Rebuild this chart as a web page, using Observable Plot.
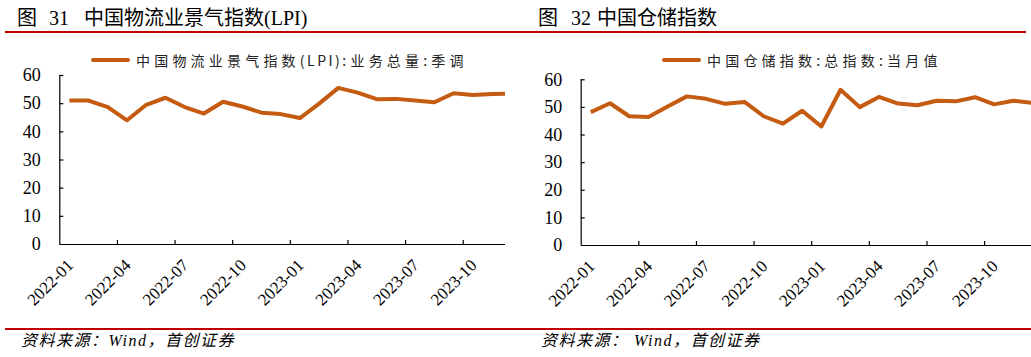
<!DOCTYPE html>
<html><head><meta charset="utf-8">
<script src="https://cdn.jsdelivr.net/npm/d3@7"></script>
<script src="https://cdn.jsdelivr.net/npm/@observablehq/plot@0.6"></script>
<style>
body{margin:0;background:#fff;}
#root{position:relative;width:1031px;height:357px;overflow:hidden;background:#fff;font-family:"Liberation Serif","Noto Sans CJK SC",serif;color:#000;}
.abs{position:absolute;}
.title{font-size:20px;line-height:24px;white-space:nowrap;}
.rule{height:2px;background:#C00000;}
.legend{font-family:"Noto Sans CJK SC",sans-serif;font-size:14px;line-height:18px;letter-spacing:4.2px;white-space:nowrap;display:flex;align-items:center;color:#222;}
.legend .lat{letter-spacing:2.5px;}
.sw{display:inline-block;width:39px;height:4px;background:#C55A11;border-radius:2px;margin-right:6px;}
.src{font-style:italic;font-size:16px;line-height:20px;letter-spacing:1.5px;white-space:nowrap;}
.chart{overflow:hidden;}
.chart svg{overflow:hidden;}
</style></head><body>
<div id="root"></div>
<script>
// ---- data ----
const months = ["2022-01","2022-02","2022-03","2022-04","2022-05","2022-06","2022-07","2022-08","2022-09","2022-10","2022-11","2022-12",
                "2023-01","2023-02","2023-03","2023-04","2023-05","2023-06","2023-07","2023-08","2023-09","2023-10","2023-11","2023-12"];
const tickLabels = ["2022-01","2022-04","2022-07","2022-10","2023-01","2023-04","2023-07","2023-10"];
const yTicks = [0,10,20,30,40,50,60];
const lpiValues = [51.1,51.1,48.8,44.1,49.6,52.1,48.8,46.5,50.7,49.0,46.8,46.3,
                   44.9,50.0,55.6,53.9,51.6,51.7,51.1,50.5,53.7,53.1,53.4,53.6];
const storageValues = [48.3,51.5,46.8,46.5,50.3,54.0,53.1,51.3,52.0,46.8,44.1,48.8,
                       43.1,56.4,50.1,53.8,51.4,50.8,52.4,52.2,53.7,51.1,52.4,51.6];
const lpiTitle = "中国物流业景气指数(LPI)";
const lpiLegendParts = ["中国物流业景气指数", "(LPI)", ":业务总量:季调"];
const storageTitle = "中国仓储指数";
const storageLegend = "中国仓储指数:总指数:当月值";

const lineColor = "#C55A11";
const bandW = 19.21;

function makeChart(values, cfg) {
  const tickIdx = tickLabels.map(l => months.indexOf(l));
  const data = values.map((v, i) => ({month: months[i], idx: i, value: v}));
  return Plot.plot({
    width: cfg.width, height: cfg.height,
    marginLeft: cfg.marginLeft, marginRight: 0,
    marginTop: cfg.marginTop, marginBottom: cfg.marginBottom,
    style: {fontFamily: "'Liberation Serif', serif", fontSize: "18px", color: "#000", background: "transparent", overflow: "hidden"},
    x: {type: "linear", domain: [0, months.length], range: [cfg.marginLeft, cfg.marginLeft + bandW * months.length], label: null},
    y: {domain: [0, 60], label: null},
    marks: [
      Plot.ruleY([0], {stroke: "#000", strokeWidth: 1.2}),
      Plot.ruleX([0], {stroke: "#000", strokeWidth: 1.2}),
      Plot.ruleX(tickIdx.slice(1).concat([months.length]), {x: d => d, y1: 0, y2: 0, insetTop: -4, stroke: "#000", strokeWidth: 1.2}),
      Plot.ruleY(yTicks.slice(1), {y: d => d, x1: 0, x2: 0, insetRight: -4, stroke: "#000", strokeWidth: 1.2}),
      Plot.axisY({ticks: yTicks, tickSize: 0, tickPadding: 19, tickFormat: d => String(d), label: null}),
      Plot.axisX({ticks: tickIdx.map(i => i + 0.5), tickSize: 0, tickPadding: 18, tickRotate: -45, fontSize: 17,
                  tickFormat: v => months[Math.floor(v)], dx: 1, dy: 0, label: null}),
      Plot.line(data, {x: d => d.idx + 0.5, y: "value", stroke: lineColor, strokeWidth: 4, strokeLinejoin: "round", strokeLinecap: "butt"})
    ]
  });
}

function el(cls, style, html) {
  const d = document.createElement("div");
  d.className = cls;
  Object.assign(d.style, style);
  if (html !== undefined) d.innerHTML = html;
  return d;
}

const root = document.getElementById("root");

// Left panel
root.appendChild(el("abs title", {left: "17px", top: "6px"},
  `<span>图</span><span style="margin-left:12px">31</span><span style="margin-left:15px">${lpiTitle}</span>`));
root.appendChild(el("abs rule", {left: "5px", top: "31px", width: "515px"}));
const lc = el("abs chart", {left: "0px", top: "0px", width: "505px", height: "320px"});
lc.appendChild(makeChart(lpiValues, {width: 505, height: 320, marginLeft: 59.3, marginTop: 75, marginBottom: 76}));
root.appendChild(lc);
root.appendChild(el("abs legend", {left: "91px", top: "51px"},
  `<span class="sw"></span><span>${lpiLegendParts[0]}</span><span class="lat">${lpiLegendParts[1]}</span><span>${lpiLegendParts[2]}</span>`));
root.appendChild(el("abs rule", {left: "5px", top: "328px", width: "515px"}));
root.appendChild(el("abs src", {left: "21px", top: "331px"}, "资料来源：Wind，首创证券"));

// Right panel
root.appendChild(el("abs title", {left: "538px", top: "6px"},
  `<span>图</span><span style="margin-left:13px">32</span><span style="margin-left:6px">${storageTitle}</span>`));
root.appendChild(el("abs rule", {left: "520px", top: "31px", width: "506px"}));
const rc = el("abs chart", {left: "520px", top: "0px", width: "511px", height: "320px"});
rc.appendChild(makeChart(storageValues, {width: 511, height: 320, marginLeft: 60.7, marginTop: 79.3, marginBottom: 75}));
root.appendChild(rc);
root.appendChild(el("abs legend", {left: "662px", top: "51px"}, `<span class="sw"></span><span>${storageLegend}</span>`));
root.appendChild(el("abs rule", {left: "520px", top: "328px", width: "511px"}));
root.appendChild(el("abs src", {left: "541px", top: "331px"}, "资料来源：&nbsp;Wind，首创证券"));
</script>
</body></html>
